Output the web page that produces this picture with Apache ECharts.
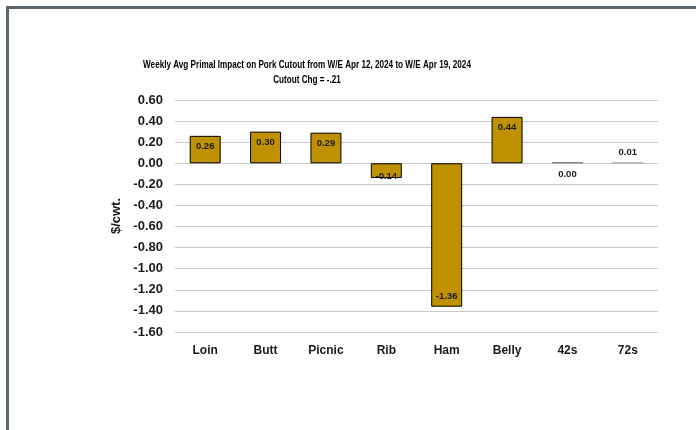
<!DOCTYPE html>
<html>
<head>
<meta charset="utf-8">
<script src="https://cdn.jsdelivr.net/npm/echarts@6/dist/echarts.min.js"></script>
<style>
  html, body { margin: 0; padding: 0; background: #ffffff; }
  #chart { width: 696px; height: 430px; }
</style>
</head>
<body>
<div id="chart"></div>
<script>
// Primal categories and their weekly impact on the pork cutout ($/cwt.)
const categories = ['Loin', 'Butt', 'Picnic', 'Rib', 'Ham', 'Belly', '42s', '72s'];
const impactValues = [0.26, 0.30, 0.29, -0.14, -1.36, 0.44, 0.00, 0.01];
const labelBelow = [false, false, false, false, false, false, true, false];

const titleLine1 = 'Weekly Avg Primal Impact on Pork Cutout from W/E Apr 12, 2024 to W/E Apr 19, 2024';
const titleLine2 = 'Cutout Chg = -.21';

const yMin = -1.6, yMax = 0.6, yStep = 0.2;

const BAR_GOLD = '#bf9000';
const FONT = '"Liberation Sans", Arial, sans-serif';

function barItem(v, i) {
  const small = Math.abs(v) < 0.05;
  const item = {
    value: v,
    itemStyle: small
      ? { color: v > 0 ? '#a6a6a6' : '#595959', borderWidth: 0 }
      : { color: BAR_GOLD, borderColor: '#000000', borderWidth: 1 }
  };
  let label;
  if (small) {
    label = labelBelow[i]
      ? { position: 'bottom', distance: 6 }
      : { position: 'top', distance: 5 };
  } else if (v >= 0) {
    label = { position: 'insideTop', distance: 6 };
  } else if (Math.abs(v) < 0.2) {
    label = { position: 'insideBottom', distance: -3 };
  } else {
    label = { position: 'insideBottom', distance: 5 };
  }
  item.label = label;
  return item;
}

const chart = echarts.init(document.getElementById('chart'), null, { renderer: 'canvas' });

chart.setOption({
  animation: false,
  backgroundColor: '#ffffff',
  graphic: [
    { type: 'line', shape: { x1: 6, y1: 7.5, x2: 696, y2: 7.5 }, style: { stroke: '#5b6770', lineWidth: 3 } },
    { type: 'line', shape: { x1: 7.5, y1: 6, x2: 7.5, y2: 430 }, style: { stroke: '#5b6770', lineWidth: 3 } },
    {
      // condensed two-line heading
      type: 'text', x: 307, y: 58, scaleX: 0.775, z: 10,
      style: {
        text: titleLine1 + '\n' + titleLine2,
        textAlign: 'center',
        font: 'bold 10.5px "Liberation Sans", Arial, sans-serif',
        lineHeight: 15,
        fill: '#000000'
      }
    }
  ],
  grid: { left: 175, right: 38, top: 100, bottom: 98, containLabel: false },
  xAxis: {
    type: 'category',
    data: categories,
    axisLine: { show: false },
    axisTick: { show: false },
    axisLabel: { color: '#1a1a1a', fontFamily: FONT, fontWeight: 'bold', fontSize: 12, margin: 13, interval: 0 }
  },
  yAxis: {
    type: 'value',
    min: yMin,
    max: yMax,
    interval: yStep,
    name: '$/cwt.',
    nameLocation: 'middle',
    nameGap: 48,
    nameRotate: 90,
    nameTextStyle: { color: '#1a1a1a', fontFamily: FONT, fontWeight: 'bold', fontSize: 13 },
    axisLine: { show: false },
    axisTick: { show: false },
    axisLabel: {
      color: '#1a1a1a', fontFamily: FONT, fontWeight: 'bold', fontSize: 13, margin: 12,
      formatter: v => v.toFixed(2)
    },
    splitLine: { lineStyle: { color: '#c8c8c8', width: 1 } }
  },
  series: [{
    type: 'bar',
    data: impactValues.map(barItem),
    barWidth: 31,
    barMinHeight: 1,
    label: {
      show: true,
      color: '#1a1a1a',
      fontFamily: FONT,
      fontWeight: 'bold',
      fontSize: 9.5,
      formatter: p => p.value.toFixed(2)
    }
  }]
});
</script>
</body>
</html>
